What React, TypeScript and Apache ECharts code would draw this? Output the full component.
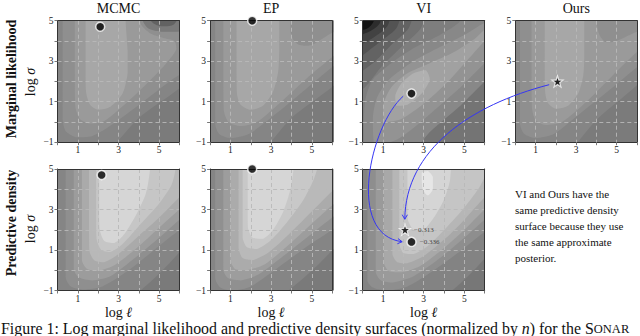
import React, { useEffect, useRef } from 'react';
import * as echarts from 'echarts';

type Pt = [number, number];

const SERIF = '"Liberation Serif", "Times New Roman", serif';

const columnTitles = ['MCMC', 'EP', 'VI', 'Ours'];
const rowTitles = ['Marginal likelihood', 'Predictive density'];
const xTickLabels = [1, 3, 5];
const yTickLabels = [-1, 1, 3, 5];
const xRange: Pt = [0, 6];
const yRange: Pt = [-1, 5];

// ---- contour regions (data coordinates: log l, log sigma), outer to inner ----
const mcmcMlPolys: Pt[][] = [
  [[-1, -2], [7, -2], [7, 7], [-1, 7]],
  [[-1, 7], [-1, -2], [1.8, -2], [4, 0.2], [7, 2.7], [7, 7]],
  [[0.25, 7], [0.25, 3], [0.25, 0.2], [0.4, -0.45], [0.9, -0.75], [1.7, -0.7], [2.8, -0.05], [4.2, 1.0], [5.5, 2.0], [7, 3.2], [7, 7]],
  [[0.85, 7], [0.85, 3], [0.87, 0.8], [1.1, 0.15], [1.6, -0.08], [2.3, 0.05], [3.4, 0.95], [4.5, 2.0], [5.4, 2.95], [5.85, 3.6], [5.75, 4.0], [5.2, 4.15], [4.6, 4.35], [4.15, 4.75], [3.95, 5.3], [3.9, 7]],
  [[1.38, 7], [1.38, 3], [1.4, 1.5], [1.6, 0.85], [2.0, 0.6], [2.6, 0.75], [3.2, 1.4], [3.45, 2.4], [3.45, 3.5], [3.35, 5], [3.3, 7]],
  [[4.1, 7], [4.2, 5.0], [4.5, 4.6], [5.1, 4.45], [5.8, 4.45], [6.5, 4.6], [6.5, 7]],
  [[4.5, 7], [4.6, 5.0], [4.9, 4.78], [5.3, 4.72], [5.7, 4.8], [5.9, 5.1], [5.9, 7]],
];
const mcmcMlShades = ['#7b7b7b', '#858585', '#8f8f8f', '#9a9a9a', '#a7a7a7', '#7a7a7a', '#626262'];

const epMlPolys: Pt[][] = [
  [[-1, -2], [7, -2], [7, 7], [-1, 7]],
  [[-1, 7], [-1, -2], [1.9, -2], [4, 0.2], [7, 2.8], [7, 7]],
  [[0.25, 7], [0.25, 3], [0.25, -0.1], [0.45, -0.6], [1.0, -0.8], [1.9, -0.6], [3.3, 0.45], [4.8, 1.7], [6, 2.7], [7, 3.4], [7, 7]],
  [[0.65, 7], [0.65, 3], [0.67, 0.6], [0.9, 0.0], [1.5, -0.2], [2.3, 0.0], [3.5, 1.0], [4.8, 2.2], [6, 3.2], [7, 3.9], [7, 4.8], [6, 4.4], [5.0, 3.8], [4.4, 3.8], [4.1, 4.05], [3.95, 4.5], [3.9, 7]],
  [[1.3, 7], [1.3, 3], [1.32, 1.4], [1.5, 0.85], [2.0, 0.6], [2.6, 0.8], [3.1, 1.5], [3.35, 2.5], [3.4, 3.5], [3.4, 7]],
];
const epMlShades = ['#7b7b7b', '#858585', '#8f8f8f', '#9a9a9a', '#a7a7a7'];

const viMlPolys: Pt[][] = [
  [[-1, -2], [7, -2], [7, 7], [-1, 7]],
  [[2.1, -2], [7, -2], [7, 3.0]],
  [[0.1, -2], [2.0, -2], [3.3, -0.5], [4.8, 0.8], [6, 2.0], [7, 2.8], [7, 7], [5.6, 7], [4.8, 5.0], [3.8, 4.3], [2.6, 3.7], [1.4, 2.9], [0.5, 2.1], [0.15, 1.2], [0.05, 0]],
  [[0.6, -1.2], [1.8, -0.8], [3.2, 0.3], [4.8, 1.7], [6, 2.9], [7, 3.7], [7, 5.3], [6, 4.9], [5, 4.3], [3.8, 3.7], [2.5, 3.0], [1.3, 2.1], [0.7, 1.2], [0.5, 0.2]],
  [[1.1, 0.0], [1.9, 0.15], [3.0, 0.9], [4.2, 2.0], [5.1, 3.0], [6, 4.0], [6.6, 4.5], [6.3, 4.8], [5.5, 4.1], [4.4, 3.4], [3.3, 2.9], [2.2, 2.4], [1.4, 1.7], [1.0, 0.8]],
  [[1.65, 0.8], [2.2, 0.85], [2.9, 1.4], [3.3, 2.1], [3.1, 2.55], [2.5, 2.4], [1.9, 1.9], [1.6, 1.3]],
  [[-1, 7], [3.4, 7], [2.9, 4.7], [1.9, 3.7], [0.9, 2.7], [0.1, 1.7], [-1, 1.0]],
  [[-1, 7], [2.8, 7], [2.3, 4.7], [1.4, 3.8], [0.5, 2.9], [-1, 1.9]],
  [[-1, 7], [2.2, 7], [1.7, 4.7], [0.9, 4.0], [-1, 2.6]],
  [[-1, 7], [1.7, 7], [1.25, 4.8], [0.5, 4.15], [-1, 3.4]],
  [[-1, 7], [1.2, 7], [0.85, 4.9], [0.3, 4.45], [-1, 4.0]],
  [[-1, 7], [0.85, 7], [0.55, 5.0], [0.2, 4.6], [-1, 4.4]],
];
const viMlShades = ['#7e7e7e', '#747474', '#888888', '#939393', '#a1a1a1', '#b0b0b0', '#727272', '#636363', '#535353', '#424242', '#2c2c2c', '#121212'];

const oursMlPolys: Pt[][] = [
  [[-1, -2], [7, -2], [7, 7], [-1, 7]],
  [[-1, 7], [-1, -2], [2.0, -2], [4, 0.1], [7, 3.0], [7, 7]],
  [[0.23, 7], [0.23, 3], [0.23, -0.1], [0.45, -0.6], [1.0, -0.8], [1.9, -0.6], [3.3, 0.5], [4.8, 1.7], [6, 2.7], [7, 3.4], [7, 7]],
  [[0.8, 7], [0.8, 3], [0.82, 0.7], [1.0, 0.1], [1.5, -0.15], [2.3, 0.0], [3.5, 1.0], [4.8, 2.3], [6, 3.45], [7, 4.2], [7, 4.7], [6, 4.45], [5.0, 4.0], [4.45, 3.95], [4.15, 4.3], [4.0, 5.0], [4.0, 7]],
  [[1.45, 7], [1.45, 3], [1.47, 1.5], [1.6, 0.95], [2.0, 0.65], [2.6, 0.8], [3.1, 1.4], [3.35, 2.3], [3.4, 3.2], [3.4, 7]],
];
const oursMlShades = ['#7b7b7b', '#858585', '#8f8f8f', '#9a9a9a', '#a7a7a7'];

const mcmcPdPolys: Pt[][] = [
  [[-1, -2], [7, -2], [7, 7], [-1, 7]],
  [[-1, 7], [-1, -2], [2.7, -2], [7, 2.3], [7, 7]],
  [[0.4, 7], [0.4, 3], [0.4, -0.35], [0.65, -0.8], [1.3, -0.95], [2.2, -0.8], [3.5, 0.0], [5, 1.2], [6, 2.0], [7, 2.8], [7, 7]],
  [[0.8, 7], [0.8, 3], [0.8, 0.05], [1.05, -0.35], [1.7, -0.5], [2.6, -0.3], [3.8, 0.6], [5, 1.6], [6, 2.5], [7, 3.3], [7, 7]],
  [[1.2, 7], [1.2, 3], [1.2, 0.5], [1.45, 0.08], [2.0, -0.02], [2.8, 0.25], [3.9, 1.1], [5, 2.1], [6, 3.0], [7, 3.8], [7, 7]],
  [[1.55, 7], [1.55, 3], [1.56, 1.0], [1.8, 0.5], [2.3, 0.4], [3.0, 0.8], [4.0, 1.7], [5, 2.6], [6, 3.6], [7, 4.5], [7, 7]],
  [[1.9, 7], [1.9, 3], [1.92, 1.55], [2.15, 1.0], [2.6, 0.9], [3.2, 1.3], [4.1, 2.3], [5, 3.3], [5.6, 4.2], [5.8, 5.0], [5.85, 7]],
  [[2.05, 7], [2.05, 3], [2.08, 2.0], [2.3, 1.45], [2.8, 1.35], [3.3, 1.8], [3.9, 2.8], [4.35, 3.8], [4.55, 5.0], [4.6, 7]],
];
const mcmcPdShades = ['#7a7a7a', '#858585', '#8f8f8f', '#9c9c9c', '#aaaaaa', '#b8b8b8', '#c6c6c6', '#d6d6d6'];

const epPdPolys: Pt[][] = [
  [[-1, -2], [7, -2], [7, 7], [-1, 7]],
  [[-1, 7], [-1, -2], [2.4, -2], [7, 2.3], [7, 7]],
  [[0.25, 7], [0.25, 3], [0.25, -0.4], [0.5, -0.85], [1.1, -1.0], [2.0, -0.8], [3.3, 0.1], [4.8, 1.2], [6, 2.0], [7, 2.8], [7, 7]],
  [[0.65, 7], [0.65, 3], [0.65, 0.0], [0.9, -0.4], [1.5, -0.5], [2.4, -0.2], [3.6, 0.7], [5, 1.8], [6, 2.6], [7, 3.4], [7, 7]],
  [[1.0, 7], [1.0, 3], [1.0, 0.5], [1.25, 0.05], [1.8, 0.0], [2.7, 0.3], [3.8, 1.2], [5, 2.3], [6, 3.2], [7, 4.0], [7, 7]],
  [[1.4, 7], [1.4, 3], [1.4, 1.1], [1.6, 0.6], [2.1, 0.5], [2.9, 0.9], [3.9, 1.8], [5, 2.9], [6, 3.9], [7, 4.8], [7, 7]],
  [[1.6, 7], [1.6, 3], [1.6, 1.6], [1.8, 1.15], [2.3, 1.05], [3.0, 1.5], [3.8, 2.4], [4.6, 3.5], [5.1, 4.5], [5.3, 5.2], [5.3, 7]],
  [[1.85, 7], [1.85, 3], [1.86, 2.1], [2.1, 1.6], [2.6, 1.55], [3.1, 2.0], [3.6, 2.9], [3.95, 4.0], [4.1, 5.0], [4.1, 7]],
];
const epPdShades = ['#7a7a7a', '#858585', '#909090', '#9d9d9d', '#ababab', '#b9b9b9', '#c8c8c8', '#d6d6d6'];

const viPdPolys: Pt[][] = [
  [[-1, -2], [7, -2], [7, 7], [-1, 7]],
  [[-1, 7], [-1, -2], [3.0, -2], [7, 2.0], [7, 7]],
  [[0.23, 7], [0.23, 3], [0.23, -0.5], [0.5, -0.85], [1.2, -1.0], [2.2, -0.8], [3.5, 0.0], [5, 1.1], [6, 1.9], [7, 2.6], [7, 7]],
  [[0.64, 7], [0.64, 3], [0.64, -0.1], [0.9, -0.5], [1.5, -0.6], [2.5, -0.3], [3.8, 0.6], [5, 1.6], [6, 2.5], [7, 3.2], [7, 7]],
  [[1.05, 7], [1.05, 3], [1.05, 0.35], [1.3, -0.05], [1.9, -0.1], [2.8, 0.2], [4.0, 1.1], [5, 2.0], [6, 3.0], [7, 3.8], [7, 7]],
  [[1.46, 7], [1.46, 3], [1.46, 0.8], [1.7, 0.4], [2.2, 0.35], [3.0, 0.7], [4.1, 1.6], [5, 2.5], [6, 3.6], [7, 4.5], [7, 7]],
  [[1.8, 7], [1.8, 3], [1.8, 1.3], [2.0, 0.85], [2.5, 0.8], [3.2, 1.2], [4.2, 2.2], [5, 3.1], [5.8, 4.2], [6.2, 5.2], [6.2, 7]],
  [[2.2, 7], [2.2, 3], [2.22, 2.5], [2.5, 2.0], [3.0, 2.0], [3.5, 2.6], [4.0, 3.5], [4.3, 4.5], [4.4, 7]],
  [[2.9, 4.8], [2.95, 4.0], [3.2, 3.7], [3.45, 4.0], [3.45, 4.6], [3.2, 4.9]],
];
const viPdShades = ['#777777', '#838383', '#8e8e8e', '#9a9a9a', '#a8a8a8', '#b6b6b6', '#c5c5c5', '#d5d5d5', '#e6e6e6'];

// ---- optima ----
const mlMcmcOpt: Pt = [2.1, 4.7];
const mlEpOpt: Pt = [2.07, 5.0];
const mlViOpt: Pt = [2.4, 1.4];
const mlOursOpt: Pt = [2.08, 2.0];
const pdMcmcOpt: Pt = [2.17, 4.7];
const pdEpOpt: Pt = [2.07, 5.0];
const pdViOpt: Pt = [2.4, 1.4];
const pdOursOpt: Pt = [2.08, 2.0];
const pdViValue = -0.336;
const pdOursValue = -0.313;

// ---- arrows: [gridIndex, x, y] for start, control 1, control 2, end ----
const arrowVi: [number, number, number][] = [[2, 1.99, 1.27], [2, 0.38, -0.15], [6, -0.85, 1.74], [6, 1.94, 1.41]];
const arrowOurs: [number, number, number][] = [[3, 1.67, 1.84], [2, 5.3, 0.84], [2, 2.1, -1.38], [6, 2.07, 2.52]];

const paragraphLines = ['VI and Ours have the', 'same predictive density', 'surface because they use', 'the same approximate', 'posterior.'];

const panels = [
  { polys: mcmcMlPolys, shades: mcmcMlShades },
  { polys: epMlPolys, shades: epMlShades },
  { polys: viMlPolys, shades: viMlShades },
  { polys: oursMlPolys, shades: oursMlShades },
  { polys: mcmcPdPolys, shades: mcmcPdShades },
  { polys: epPdPolys, shades: epPdShades },
  { polys: viPdPolys, shades: viPdShades },
];

const GRID_W = 122;
const GRID_H = 121.5;
const colLeft = (c: number) => 57.5 + c * 152.6;
const rowTop = (r: number) => (r === 0 ? 20.7 : 169);
const fmtNum = (v: number) => (v < 0 ? '\u2212' + String(-v) : String(v));

export default function App() {
  const ref = useRef<HTMLDivElement>(null);
  useEffect(() => {
    document.body.style.margin = '0';
    if (!ref.current) return;
    const chart = echarts.init(ref.current, undefined, { renderer: 'svg' });

    const grids: any[] = [];
    const xAxes: any[] = [];
    const yAxes: any[] = [];
    const series: any[] = [];
    panels.forEach((p, i) => {
      const r = i < 4 ? 0 : 1;
      const c = i < 4 ? i : i - 4;
      grids.push({ left: colLeft(c), top: rowTop(r), width: GRID_W, height: GRID_H });
      xAxes.push({
        gridIndex: i, type: 'value', min: xRange[0], max: xRange[1], interval: 1, position: 'bottom', z: 10,
        axisLine: { show: true, onZero: false, lineStyle: { color: '#333', width: 1 } },
        axisTick: { show: true, length: 3, lineStyle: { color: '#777' } },
        axisLabel: {
          margin: 3, fontSize: 9.5, fontFamily: SERIF, color: '#222',
          formatter: (v: number) => (xTickLabels.includes(v) ? fmtNum(v) : ''),
        },
        splitLine: { show: true, lineStyle: { color: '#b9b9b9', width: 0.9, type: [4, 3] } },
      });
      xAxes.push({
        gridIndex: i, type: 'value', min: xRange[0], max: xRange[1], interval: 1, position: 'top', z: 10,
        axisLine: { show: true, onZero: false, lineStyle: { color: '#333', width: 1 } },
        axisTick: { show: false }, axisLabel: { show: false }, splitLine: { show: false },
      });
      yAxes.push({
        gridIndex: i, type: 'value', min: yRange[0], max: yRange[1], interval: 1, position: 'left', z: 10,
        axisLine: { show: true, onZero: false, lineStyle: { color: '#333', width: 1 } },
        axisTick: { show: true, length: 3, lineStyle: { color: '#777' } },
        axisLabel: {
          margin: 4, fontSize: 9.5, fontFamily: SERIF, color: '#222', showMinLabel: true, showMaxLabel: true,
          formatter: (v: number) => (yTickLabels.includes(v) ? fmtNum(v) : ''),
        },
        splitLine: { show: true, lineStyle: { color: '#b9b9b9', width: 0.9, type: [4, 3] } },
      });
      yAxes.push({
        gridIndex: i, type: 'value', min: yRange[0], max: yRange[1], interval: 1, position: 'right', z: 10,
        axisLine: { show: true, onZero: false, lineStyle: { color: '#333', width: 1 } },
        axisTick: { show: false }, axisLabel: { show: false }, splitLine: { show: false },
      });
      series.push({
        type: 'custom', xAxisIndex: 2 * i, yAxisIndex: 2 * i, clip: true, silent: true, z: 1,
        data: p.polys.map((_, k) => [k, 0]),
        renderItem: (params: any, api: any) => {
          const k = params.dataIndex;
          const pts = p.polys[k].map((pt) => api.coord(pt));
          const xs = pts.map((q: number[]) => q[0]);
          const ys = pts.map((q: number[]) => q[1]);
          const cons = [[Math.min(...xs), Math.min(...ys)], [Math.max(...xs), Math.max(...ys)]];
          return {
            type: 'polygon',
            shape: { points: pts, smooth: 0.25, smoothConstraint: cons },
            style: { fill: p.shades[k] },
          };
        },
      });
    });

    const dot = (grid: number, pt: Pt, label?: string) => ({
      type: 'scatter', xAxisIndex: 2 * grid, yAxisIndex: 2 * grid, clip: false, silent: true, z: 20,
      symbol: 'circle', symbolSize: 9, data: [pt],
      itemStyle: { color: '#000', borderColor: '#fff', borderWidth: 1.5 },
      label: label
        ? { show: true, position: 'right', distance: 3, formatter: label, fontSize: 7, fontFamily: SERIF, color: '#222' }
        : { show: false },
    });
    const STAR = 'path://M0,-10L2.35,-3.24L9.51,-3.09L3.8,1.24L5.88,8.09L0,4L-5.88,8.09L-3.8,1.24L-9.51,-3.09L-2.35,-3.24Z';
    const star = (grid: number, pt: Pt, label?: string) => ({
      ...dot(grid, pt, label), symbol: STAR, symbolSize: 11,
      itemStyle: { color: '#000', borderColor: '#fff', borderWidth: 1.2 },
    });
    series.push(dot(0, mlMcmcOpt), dot(1, mlEpOpt), dot(2, mlViOpt), star(3, mlOursOpt));
    series.push(dot(4, pdMcmcOpt), dot(5, pdEpOpt), dot(6, pdViOpt, fmtNum(pdViValue)), star(6, pdOursOpt, fmtNum(pdOursValue)));

    chart.setOption({
      animation: false,
      grid: grids,
      xAxis: xAxes,
      yAxis: yAxes,
      series,
    });

    const toPx = (g: number, x: number, y: number): number[] =>
      chart.convertToPixel({ xAxisIndex: 2 * g, yAxisIndex: 2 * g } as any, [x, y]) as number[];

    const graphics: any[] = [];
    const txt = (text: string, x: number, y: number, size: number, extra: any = {}, rotation = 0, rich?: any) => ({
      type: 'text', x, y, rotation, z: 50, silent: true,
      style: {
        text, fontSize: size, fontFamily: SERIF, fill: '#111', align: 'center', verticalAlign: 'middle', rich, ...extra,
      },
    });
    columnTitles.forEach((t, c) => graphics.push(txt(t, colLeft(c) + GRID_W / 2, 8, 14)));
    rowTitles.forEach((t, r) => graphics.push(txt(t, 11, r === 0 ? 79 : 223, 14, { fontWeight: 'bold' }, Math.PI / 2)));
    const italic = { it: { fontStyle: 'italic', fontSize: 14, fontFamily: SERIF, fill: '#111' } };
    [0, 1].forEach((r) => graphics.push(txt('log {it|\u03c3}', 30, r === 0 ? 82 : 229, 14, {}, Math.PI / 2, italic)));
    [0, 1, 2].forEach((c) => graphics.push(txt('log {it|\u2113}', colLeft(c) + GRID_W / 2, 312, 14, {}, 0, italic)));
    paragraphLines.forEach((l, k) => graphics.push(txt(l, 515, 193.5 + k * 16.2, 11, { align: 'left' })));
    graphics.push(txt('Figure 1: Log marginal likelihood and predictive density surfaces (normalized by {it|n}) for the {s1|S}{s2|ONAR}', 1, 328.5, 15.9, { align: 'left' }, 0, {
      it: { fontStyle: 'italic', fontSize: 15.9, fontFamily: SERIF, fill: '#111' },
      s1: { fontSize: 15.9, fontFamily: SERIF, fill: '#111' },
      s2: { fontSize: 12.5, fontFamily: SERIF, fill: '#111' },
    }));

    const BLUE = '#3535f5';
    [arrowVi, arrowOurs].forEach((a) => {
      const [p0, p1, p2, p3] = a.map(([g, x, y]) => toPx(g, x, y));
      graphics.push({
        type: 'bezierCurve', z: 60, silent: true,
        shape: { x1: p0[0], y1: p0[1], cpx1: p1[0], cpy1: p1[1], cpx2: p2[0], cpy2: p2[1], x2: p3[0], y2: p3[1] },
        style: { stroke: BLUE, lineWidth: 1, fill: null },
      });
      const dx = p3[0] - p2[0];
      const dy = p3[1] - p2[1];
      const len = Math.hypot(dx, dy) || 1;
      const ux = dx / len, uy = dy / len;
      const nx = -uy, ny = ux;
      const L = 4.5, W = 2.6;
      graphics.push({
        type: 'polyline', z: 60, silent: true,
        shape: { points: [[p3[0] - ux * L + nx * W, p3[1] - uy * L + ny * W], [p3[0], p3[1]], [p3[0] - ux * L - nx * W, p3[1] - uy * L - ny * W]] },
        style: { stroke: BLUE, lineWidth: 1, fill: null },
      });
    });

    chart.setOption({ graphic: graphics });

    return () => chart.dispose();
  }, []);
  return <div ref={ref} style={{ position: 'absolute', left: 0, top: 0, width: 640, height: 336, background: '#fff' }} />;
}
